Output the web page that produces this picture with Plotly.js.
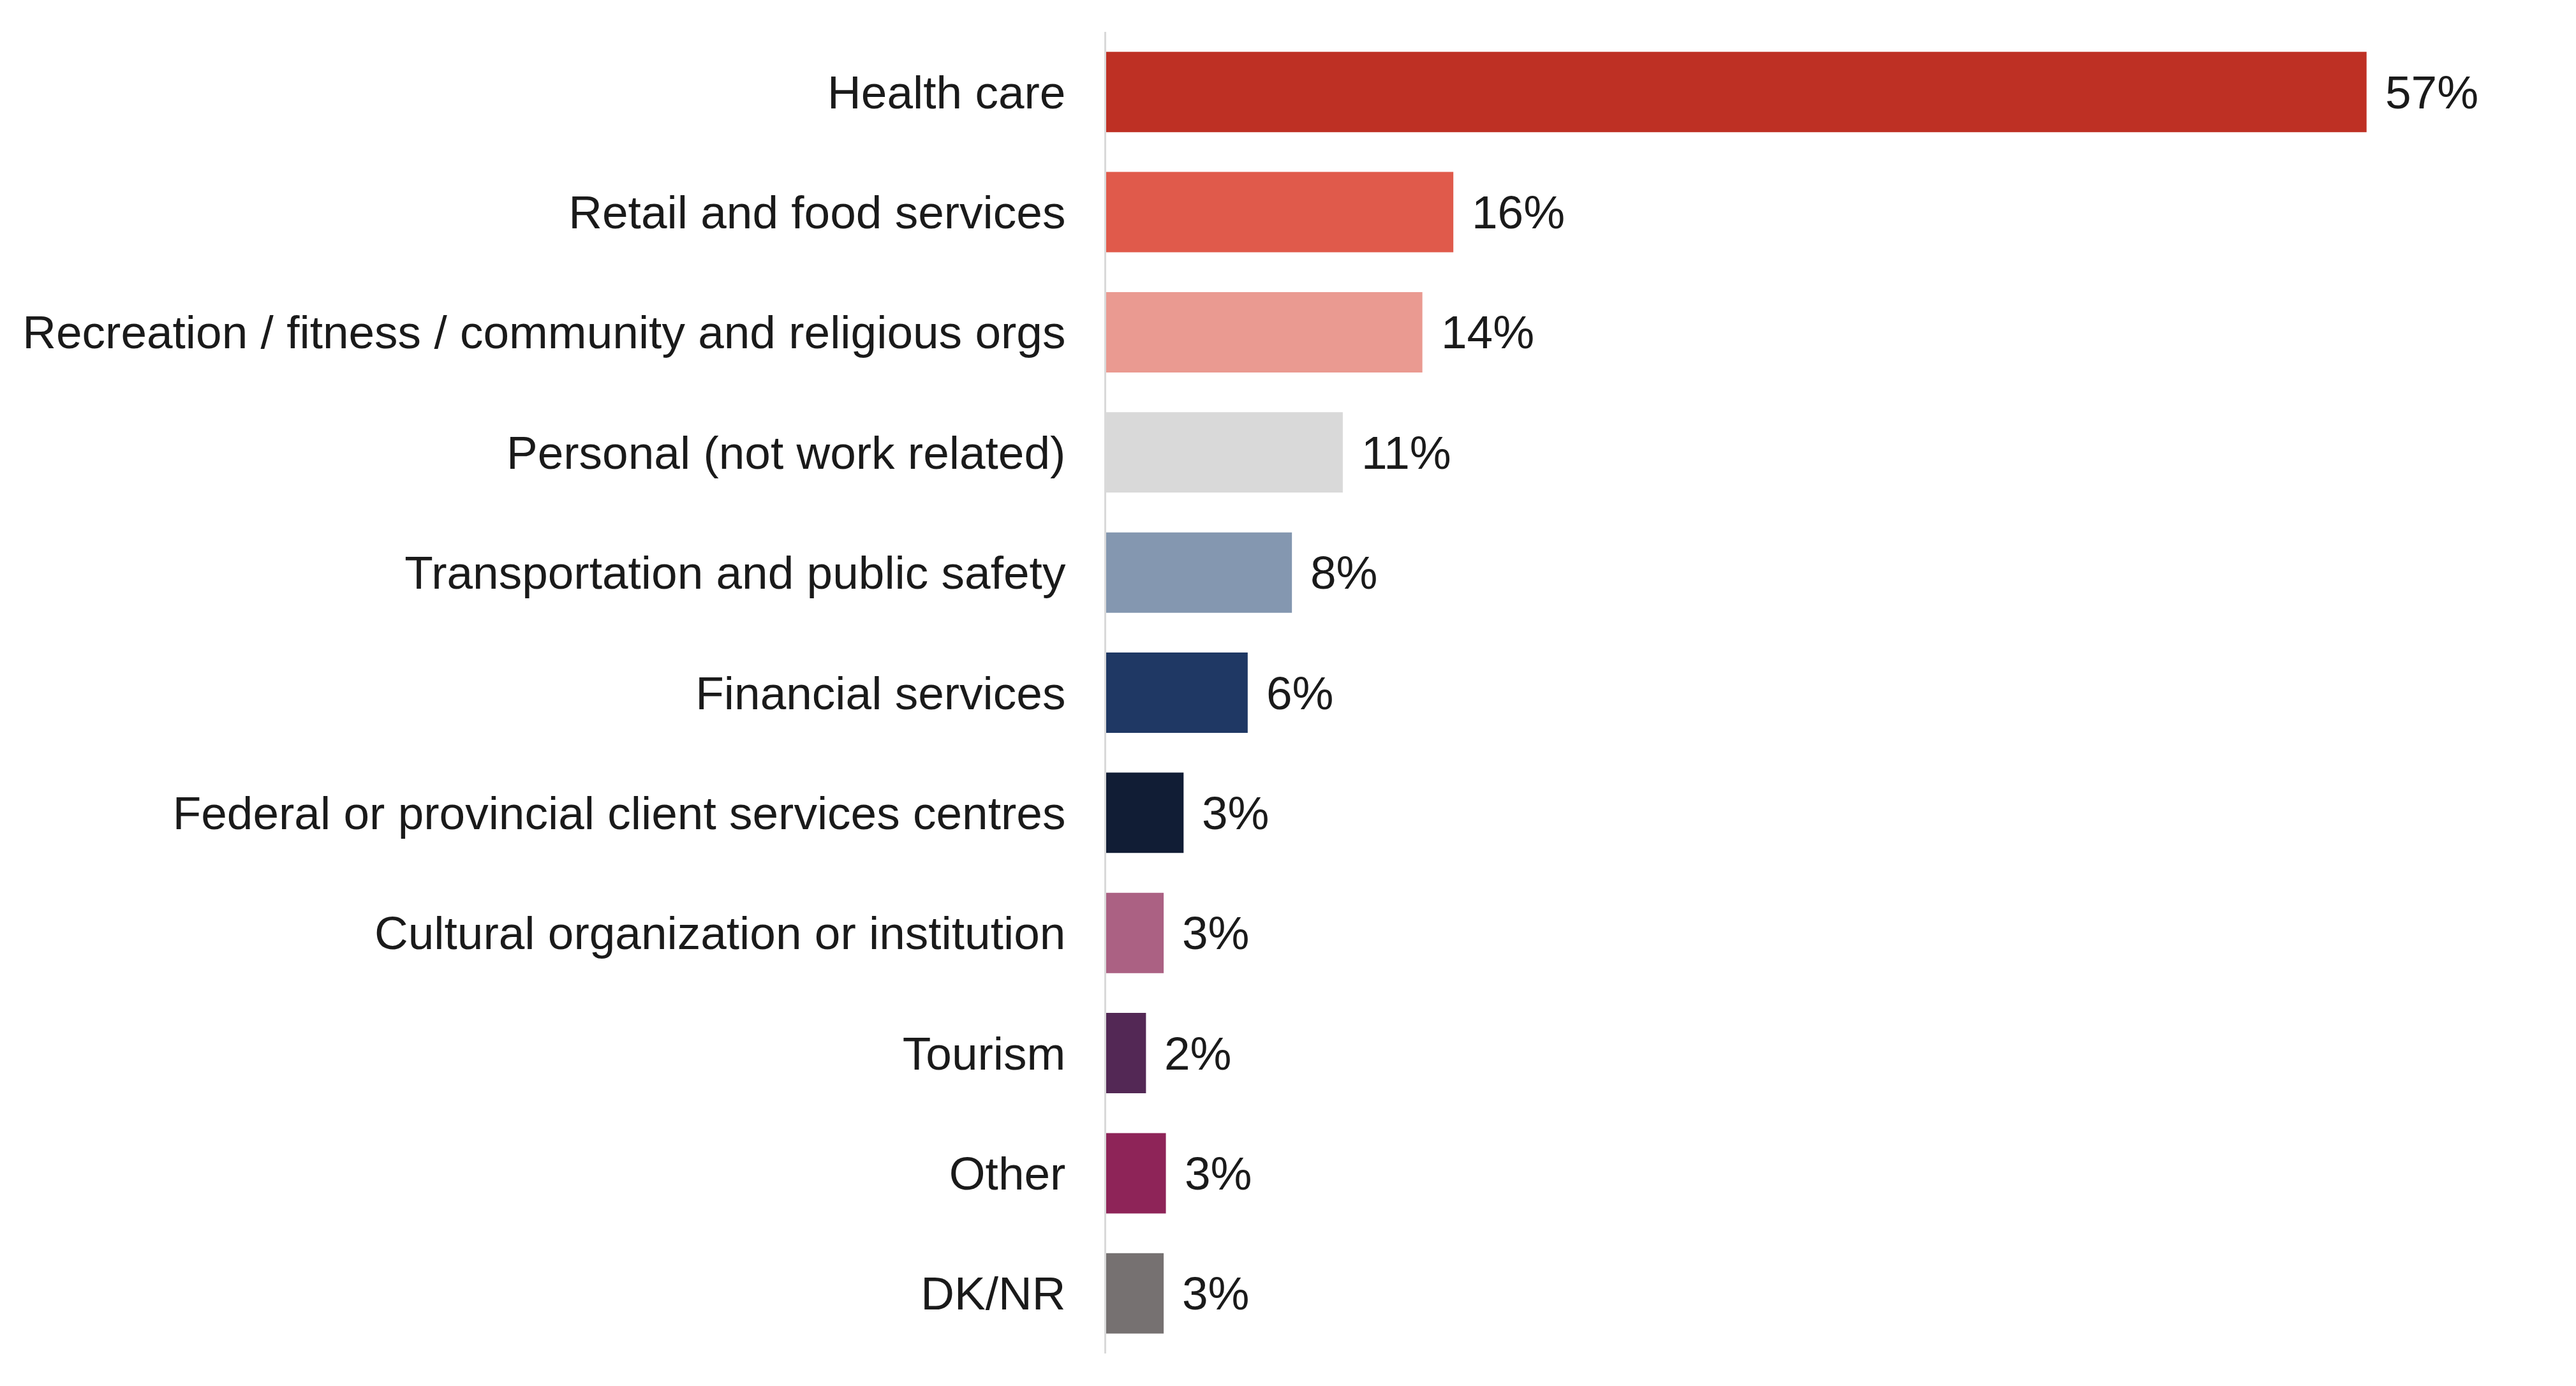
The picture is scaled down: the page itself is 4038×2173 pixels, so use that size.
<!DOCTYPE html>
<html>
<head>
<meta charset="utf-8">
<script src="https://cdn.plot.ly/plotly-3.0.1.min.js"></script>
<style>
  html, body { margin: 0; padding: 0; background: #ffffff; }
  #chart { width: 4038px; height: 2173px; }
</style>
</head>
<body>
<div id="chart"></div>
<script>
const categories = [
  "Health care",
  "Retail and food services",
  "Recreation / fitness / community and religious orgs",
  "Personal (not work related)",
  "Transportation and public safety",
  "Financial services",
  "Federal or provincial client services centres",
  "Cultural organization or institution",
  "Tourism",
  "Other",
  "DK/NR"
];
const values = [57.0, 15.7, 14.3, 10.7, 8.4, 6.4, 3.5, 2.6, 1.8, 2.7, 2.6];
const valueLabels = ["57%", "16%", "14%", "11%", "8%", "6%", "3%", "3%", "2%", "3%", "3%"];
const barColors = [
  "#BE3024", "#E05A4B", "#EA9A91", "#D9D9D9", "#8497B0", "#1F3864",
  "#111D35", "#AB6183", "#532855", "#8E2458", "#767171"
];

const FONT = "Liberation Sans, Arial, sans-serif";

const trace = {
  type: "bar",
  orientation: "h",
  x: values,
  y: categories,
  marker: { color: barColors, line: { width: 0 } },
  hoverinfo: "none",
  showlegend: false
};

const annotations = categories.map((c, i) => ({
  x: values[i],
  y: c,
  xref: "x",
  yref: "y",
  text: valueLabels[i],
  showarrow: false,
  xanchor: "left",
  yanchor: "middle",
  xshift: 27,
  font: { family: FONT, size: 73, color: "#1a1a1a" }
}));

const layout = {
  width: 4038,
  height: 2173,
  paper_bgcolor: "#ffffff",
  plot_bgcolor: "#ffffff",
  margin: { l: 1734, r: 51, t: 50, b: 51, pad: 0 },
  bargap: 0.331,
  xaxis: {
    range: [0, 65],
    visible: false,
    showgrid: false,
    zeroline: false,
    fixedrange: true
  },
  yaxis: {
    type: "category",
    categoryorder: "array",
    categoryarray: categories,
    range: [10.5, -0.5],
    showgrid: false,
    zeroline: false,
    showline: true,
    linecolor: "#d9d9d9",
    linewidth: 3,
    ticks: "",
    ticklabelstandoff: 46,
    tickfont: { family: FONT, size: 73, color: "#1a1a1a" },
    fixedrange: true
  },
  annotations: annotations,
  font: { family: FONT, color: "#1a1a1a" }
};

Plotly.newPlot("chart", [trace], layout, { displayModeBar: false, staticPlot: true });
</script>
</body>
</html>
